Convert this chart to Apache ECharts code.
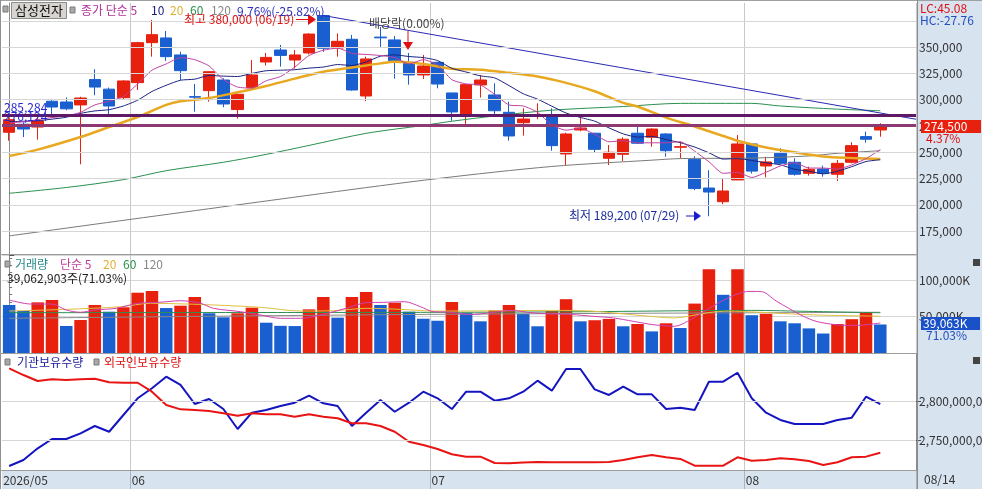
<!DOCTYPE html>
<html>
<head>
<meta charset="utf-8">
<title>삼성전자</title>
<script src="https://cdn.jsdelivr.net/npm/echarts@6.0.0/dist/echarts.min.js"></script>
<style>
  html, body { margin: 0; padding: 0; background: #fff; }
  #chart-container { width: 982px; height: 489px; }
</style>
</head>
<body>
<div id="chart-container"></div>
<script>
const FONT = "'Noto Sans CJK KR', 'Noto Sans', sans-serif";
const RED = '#e8200e';
const BLUE = '#1a5fd0';

// trading days 2026/05/18 ~ 2026/08/14
const dates = [
  '2026/05/18', '2026/05/19', '2026/05/20', '2026/05/21', '2026/05/22', '2026/05/26', '2026/05/27', '2026/05/28', '2026/05/29',
  '2026/06/01', '2026/06/02', '2026/06/04', '2026/06/05', '2026/06/08', '2026/06/09', '2026/06/10', '2026/06/11', '2026/06/12',
  '2026/06/15', '2026/06/16', '2026/06/17', '2026/06/18', '2026/06/19', '2026/06/22', '2026/06/23', '2026/06/24', '2026/06/25',
  '2026/06/26', '2026/06/29', '2026/06/30',
  '2026/07/01', '2026/07/02', '2026/07/03', '2026/07/06', '2026/07/07', '2026/07/08', '2026/07/09', '2026/07/10', '2026/07/13',
  '2026/07/14', '2026/07/15', '2026/07/16', '2026/07/20', '2026/07/21', '2026/07/22', '2026/07/23', '2026/07/24', '2026/07/27',
  '2026/07/28', '2026/07/29', '2026/07/30', '2026/07/31',
  '2026/08/03', '2026/08/04', '2026/08/05', '2026/08/06', '2026/08/07', '2026/08/10', '2026/08/11', '2026/08/12', '2026/08/13',
  '2026/08/14'
];
const monthStarts = [0, 9, 30, 52];
const monthLabels = ['2026/05', '06', '07', '08'];

const openPx = [269000, 276600, 274000, 298500, 297800, 295000, 319100, 310000, 301900, 316200,
  354200, 358700, 342500, 302900, 308600, 318700, 290600, 311400, 335800, 347200,
  337700, 344400, 380000, 349100, 357400, 303500, 359500, 356800, 335500, 323500,
  335500, 306400, 285500, 314000, 304500, 288000, 278100, 285000, 284800, 248400,
  271200, 268100, 244300, 248100, 268100, 264300, 267400, 254800, 243300, 216000,
  203000, 223700, 257900, 237000, 249000, 240500, 230000, 234100, 229100, 240500,
  264900, 271200];
const closePx = [281000, 272100, 279700, 293000, 291300, 301600, 312000, 294000, 317800, 354200,
  361800, 340900, 327600, 302400, 326600, 295900, 305100, 323500, 340200, 342100,
  342500, 362400, 348900, 355500, 309200, 338700, 358800, 337000, 323500, 332000,
  314900, 288300, 314300, 318700, 289500, 265500, 281600, 285600, 256300, 267400,
  273100, 252800, 250000, 262400, 258600, 272100, 251500, 255300, 215500, 212200,
  213200, 257900, 232100, 240800, 239500, 229100, 233800, 230000, 239500, 256300,
  262400, 274500];
const lowPx = [261000, 264500, 262000, 285200, 290000, 238600, 304200, 285500, 300500, 309200,
  340900, 336800, 318700, 288600, 298100, 292800, 281900, 311000, 332400, 331400,
  329500, 343000, 345600, 340900, 308600, 298700, 350100, 320000, 314300, 319700,
  310800, 280000, 276600, 302000, 285500, 261000, 265800, 281400, 251500, 237900,
  270000, 249600, 237900, 241700, 257900, 255300, 245800, 244300, 214000, 189200,
  200600, 223700, 229800, 226200, 238600, 227800, 227800, 226800, 222700, 239500,
  259100, 264800];
const highPx = [284500, 278500, 283500, 299500, 302000, 302800, 329000, 311500, 318500, 355100,
  375800, 365300, 345600, 314900, 327000, 320300, 305800, 337700, 344400, 352000,
  347200, 363100, 380000, 363000, 361500, 340900, 369100, 360500, 344400, 342500,
  336100, 306400, 314900, 323500, 315600, 298100, 291800, 296600, 291800, 268600,
  285500, 268600, 256900, 264300, 275000, 272800, 268100, 260000, 246200, 232900,
  225000, 266400, 258600, 245700, 253800, 244300, 236300, 237300, 242700, 259500,
  269600, 277600];

// moving averages
const ma5 = [278000, 279000, 281000, 283000, 284500, 288000, 295000, 298500, 303000, 315000,
  328000, 334000, 340000, 338000, 332000, 319000, 312000, 311000, 318000, 322000,
  331000, 342000, 347000, 349000, 344000, 343000, 342000, 340000, 334000, 338000,
  333000, 319000, 315000, 314000, 305000, 295000, 294000, 288000, 276000, 271000,
  273000, 267000, 260000, 261000, 259000, 259000, 259000, 260000, 251000, 241000,
  230000, 231000, 226000, 231000, 237000, 240000, 235000, 235000, 234000, 238000,
  244000, 252500];
const ma10 = [279000, 279500, 280000, 281500, 283300, 287000, 289300, 290500, 294000, 299500,
  307800, 313700, 318500, 319500, 323000, 322400, 322000, 325000, 327500, 328000,
  328500, 330000, 331000, 333400, 332500, 335900, 341300, 342600, 341000, 340000,
  337200, 329800, 326300, 322600, 320700, 313400, 305600, 300500, 293800, 287300,
  283100, 279600, 273200, 267500, 264400, 265100, 262100, 259100, 255000, 249500,
  243500, 244000, 242200, 240000, 238100, 233800, 232000, 229500, 231900, 236300,
  241200, 242900];
const ma20Pts = [[0, 246500], [2, 252500], [5, 264500], [7, 274000], [9, 283500], [11, 295000], [12, 298500],
  [14, 301500], [16, 307000], [18, 313000], [20, 320000], [22, 326500], [24, 330500], [26, 334500], [27, 336000],
  [29, 334000], [31, 329500], [33, 328500], [35, 325500], [37, 322000], [39, 316000], [41, 308000], [43, 297000],
  [44, 293500], [46, 283000], [48, 274500], [50, 265500], [51, 261000], [53, 254500], [55, 250000], [57, 246000],
  [59, 244500], [61, 243500]];
const ma60Pts = [[0, 211000], [4, 216500], [8, 224000], [11, 232500], [15, 240500], [18, 248000], [21, 256500],
  [25, 268000], [29, 275500], [31, 279500], [34, 284500], [38, 290000], [43, 293500], [47, 296500], [52, 296500],
  [54, 294000], [58, 291000], [61, 289500]];
const ma120Pts = [[0, 170500], [22, 211000], [30, 225000], [38, 236500], [45, 242500], [47, 244000], [52, 244500],
  [56, 246500], [58, 249000], [61, 251500]];
const trendPts = [[22, 380000], [63.5, 281400]];
const levelValues = [285284, 276124];

// volume, thousand shares
const volumes = [65800, 57500, 69400, 72600, 37000, 45200, 65800, 56600, 62600, 82600,
  84900, 61600, 64800, 76700, 54400, 48900, 54400, 62100, 41500, 37200,
  36900, 59800, 76700, 48400, 76700, 83600, 65800, 68900, 56600, 47000,
  44200, 69900, 55100, 43400, 58400, 65800, 53700, 36600, 57400, 73700,
  43400, 44900, 46700, 36600, 39700, 29600, 40700, 34200, 67700, 114700,
  79700, 114800, 51800, 53700, 43400, 40700, 33700, 26700, 39700, 46300,
  55100, 39063];
const volMa5Pts = [[0, 72600], [1.5, 67100], [3, 67100], [4, 58900], [5, 55800], [6, 58900], [7.5, 61200],
  [9, 68100], [10.5, 69400], [12, 71600], [13.4, 68100], [14.3, 61200], [16.2, 56600], [17.6, 52100], [19, 47500],
  [20.4, 47500], [21.8, 52100], [23.6, 61200], [25, 68900], [26.2, 69400], [27.7, 70300], [28.8, 63400],
  [29.7, 56600], [30.8, 56000], [32.3, 52700], [33.7, 55100], [35.1, 58400], [36.6, 55100], [38, 53700],
  [39.4, 52700], [40.8, 50400], [42.3, 48100], [43.7, 43400], [45.1, 38800], [46.6, 36600], [47.5, 43400],
  [48.9, 59700], [50.4, 76000], [51.8, 84400], [52.7, 84000], [53.7, 71400], [54.6, 61100], [55.6, 50400],
  [56.5, 43400], [57.5, 39700], [58.4, 37900], [59.4, 37900], [61, 41100]];
const volMa20Pts = [[0, 57500], [4, 59800], [7.8, 63400], [9.9, 68100], [12.4, 67100], [14.3, 65800], [17.6, 62600],
  [20.4, 57500], [22.7, 57900], [25, 61200], [27.4, 59800], [29.7, 57500], [31.6, 57500], [38, 58400], [40.8, 57400],
  [44.2, 51400], [46.6, 48100], [48.9, 55100], [50.4, 57400], [52.3, 56000], [54.6, 53700], [57, 51800], [61, 50400]];
const volMa60Pts = [[0, 55200], [20, 55500], [31.6, 55800], [40, 56500], [48, 58000], [52, 58400], [56, 57000], [61, 55100]];
const volMa120Pts = [[0, 47500], [15, 50500], [30, 53000], [45, 54500], [61, 55800]];

// holdings, million shares
const instHold = [2718.1, 2725.7, 2740.4, 2752.1, 2752.1, 2759.3, 2768.5, 2761.3, 2782.4, 2803.4,
  2816.0, 2830.6, 2820.2, 2796.2, 2802.5, 2789.9, 2764.7, 2785.3, 2788.7, 2793.7,
  2797.9, 2806.7, 2797.1, 2793.7, 2768.5, 2785.3, 2801.3, 2786.5, 2797.9, 2811.7,
  2803.4, 2789.9, 2811.7, 2811.7, 2800.4, 2803.4, 2811.7, 2825.6, 2813.0, 2840.3,
  2840.3, 2814.7, 2807.6, 2818.0, 2808.4, 2808.4, 2789.9, 2791.6, 2788.7, 2824.3,
  2824.3, 2835.6, 2803.4, 2785.3, 2776.1, 2771.0, 2771.0, 2771.0, 2776.1, 2779.0,
  2805.4, 2796.2];
const foreignHold = [2841.2, 2832.7, 2825.2, 2827.3, 2826.4, 2827.3, 2828.1, 2823.6, 2823.0, 2823.0,
  2811.7, 2795.0, 2789.5, 2788.7, 2787.4, 2784.5, 2781.5, 2784.5, 2783.3, 2783.3,
  2780.2, 2783.3, 2780.2, 2778.2, 2771.9, 2771.9, 2768.5, 2761.3, 2748.7, 2744.6,
  2739.5, 2732.9, 2729.9, 2729.9, 2721.9, 2721.5, 2722.5, 2723.2, 2722.8, 2722.8,
  2722.8, 2722.8, 2723.2, 2725.7, 2729.1, 2732.0, 2729.1, 2727.0, 2718.5, 2718.5,
  2718.5, 2729.1, 2724.8, 2725.7, 2727.8, 2726.6, 2724.4, 2719.4, 2722.8, 2729.1,
  2729.9, 2734.9];

const priceGrid = [175000, 200000, 225000, 250000, 275000, 300000, 325000, 350000, 375000];
const priceTicks = [175000, 200000, 225000, 250000, 275000, 300000, 325000, 350000];
const holdTicks = [2750, 2800];

const cats = dates.concat(['p1', 'p2']);
const fmt = v => v.toLocaleString('en-US');

function monthLine(i) {
  return i > 0 && monthStarts.indexOf(i) >= 0;
}

function panel(top, height, extra) {
  return Object.assign({ left: 2, right: 66, top: top, height: height, outerBoundsMode: 'none', containLabel: false }, extra);
}

function catAxis(gridIndex) {
  return {
    type: 'category', gridIndex: gridIndex, data: cats, boundaryGap: true,
    axisLine: { show: false }, axisTick: { show: false }, axisLabel: { show: false },
    splitLine: { show: true, interval: monthLine, lineStyle: { color: '#c8c8c8', width: 1 } }
  };
}

function overlayAxis(gridIndex) {
  return { type: 'value', gridIndex: gridIndex, min: -0.5, max: 63.5, show: false };
}

function line(data, color, width, xIdx, yIdx, smooth, z) {
  return {
    type: 'line', xAxisIndex: xIdx, yAxisIndex: yIdx, data: data, symbol: 'none', showSymbol: false,
    smooth: smooth || false, silent: true, z: z || 3, lineStyle: { color: color, width: width }
  };
}

function gridLines(xIdx, yIdx, values) {
  return {
    type: 'line', xAxisIndex: xIdx, yAxisIndex: yIdx, data: [], z: 1, silent: true,
    markLine: {
      symbol: 'none', silent: true, label: { show: false }, animation: false,
      lineStyle: { color: '#d6d6d6', width: 1, type: 'solid' },
      data: values.map(v => ({ yAxis: v }))
    }
  };
}

// decorations: frame, legends, notes
function text(x, y, s, color, size, z) {
  return {
    type: 'text', x: x, y: y, z: z || 100, silent: true,
    style: { text: s, fill: color, fontSize: size || 12, fontFamily: FONT, verticalAlign: 'middle' }
  };
}
function rect(x, y, w, h, fill, stroke, z) {
  return { type: 'rect', z: z || 90, silent: true, shape: { x: x, y: y, width: w, height: h },
    style: { fill: fill, stroke: stroke || null, lineWidth: 1 } };
}
function seg(x1, y1, x2, y2, color, w, z) {
  return { type: 'line', z: z || 95, silent: true, shape: { x1: x1, y1: y1, x2: x2, y2: y2 },
    style: { stroke: color, lineWidth: w || 1 } };
}
function tri(points, color) {
  return { type: 'polygon', z: 96, silent: true, shape: { points: points }, style: { fill: color } };
}
function icon(x, y) {
  return rect(x, y, 5, 6, '#a8a8a8', '#7a7a7a', 100);
}

const graphics = [
  rect(918, 0, 64, 489, '#d8e3f0', null, -1),
  seg(0, 0.5, 982, 0.5, '#a0a0a0'),
  seg(0.5, 0, 0.5, 489, '#909090'),
  seg(917.5, 0, 917.5, 489, '#8c8c8c'),
  seg(0, 254.5, 917, 254.5, '#9c9c9c'),
  seg(0, 353.5, 917, 353.5, '#9c9c9c'),
  seg(0, 470.5, 917, 470.5, '#9c9c9c'),

  icon(3, 6),
  rect(11.5, 2.5, 55, 16, '#d8d5d0', '#8c8c8c', 99),
  text(15, 10.5, '삼성전자', '#111', 13),
  icon(70, 7),
  text(81, 10, '종가 단순 5', '#b0309a'),
  text(151, 10, '10', '#1a1a7a'),
  text(170, 10, '20', '#e0b030'),
  text(190, 10, '60', '#2a9050'),
  text(211, 10, '120', '#888888'),

  text(184, 19.5, '최고 380,000 (06/19)', '#e01010'),
  seg(296, 19.5, 309, 19.5, '#e01010'),
  tri([[308, 14], [316, 19.5], [308, 25]], '#e01010'),
  text(237, 11, '9.76%(-25.82%)', '#2a30b8', 12, 101),
  text(369, 23, '배당락(0.00%)', '#444444'),
  seg(408, 31, 408, 44, '#e01010'),
  tri([[403, 42], [413, 42], [408, 50]], '#e01010'),
  text(569, 215.5, '최저 189,200 (07/29)', '#1a2a9a'),
  seg(686, 216, 697, 216, '#1a1ad0'),
  tri([[694, 211], [701, 216], [694, 221]], '#1a1ad0'),

  text(920, 8, 'LC:45.08', '#e01010'),
  text(920, 20, 'HC:-27.76', '#2050c0'),
  rect(921, 120, 60, 13, RED, null, 99),
  text(924, 126.5, '274,500', '#ffffff'),
  text(926, 138.5, '4.37%', '#e01010'),

  icon(5, 261),
  text(15, 264, '거래량', '#2a8a8a'),
  text(60, 264, '단순 5', '#c040a0'),
  text(103, 264, '20', '#e0b030'),
  text(123, 264, '60', '#2a9050'),
  text(143, 264, '120', '#888888'),
  text(7, 278, '39,062,903주(71.03%)', '#222222'),
  rect(921, 317, 59, 13, '#1a50c8', null, 99),
  text(923, 323.5, '39,063K', '#ffffff'),
  text(926, 335.5, '71.03%', '#2050c0'),
  rect(973, 259, 7, 7, '#444444', null, 99),
  rect(973, 357, 7, 7, '#444444', null, 99),

  icon(5, 359),
  text(17, 362.5, '기관보유수량', '#1a1a9a'),
  icon(94, 359),
  text(104, 362.5, '외국인보유수량', '#e01010'),

  text(924, 479.5, '08/14', '#333333')
];

const candleData = dates.map((d, i) => [openPx[i], closePx[i], lowPx[i], highPx[i]]);
const volumeData = volumes.map((v, i) => ({
  value: v,
  itemStyle: { color: i > 0 && v >= volumes[i - 1] ? RED : BLUE }
}));

const option = {
  animation: false,
  backgroundColor: '#ffffff',
  textStyle: { fontFamily: FONT },
  grid: [
    panel(3, 251),
    panel(255, 98),
    panel(354, 116),
    panel(470, 19, { show: true, backgroundColor: '#d8e3f0', borderWidth: 0 })
  ],
  xAxis: [
    catAxis(0),
    catAxis(1),
    catAxis(2),
    overlayAxis(0),
    overlayAxis(1),
    Object.assign(catAxis(3), {
      splitLine: { show: true, interval: monthLine, lineStyle: { color: '#a8b4c0', width: 1 } },
      axisLabel: {
        show: true, inside: true, margin: 3, align: 'left', padding: [0, 0, 0, -6],
        color: '#333333', fontSize: 12,
        interval: i => monthStarts.indexOf(i) >= 0,
        formatter: (v, i) => monthLabels[monthStarts.indexOf(i)] || ''
      }
    })
  ],
  yAxis: [
    {
      type: 'value', gridIndex: 0, position: 'right', min: 153300, max: 391900,
      splitLine: { show: false },
      axisLine: { show: true, lineStyle: { color: '#8c8c8c' } },
      axisTick: { show: true, length: 5, customValues: priceTicks, lineStyle: { color: '#555' } },
      axisLabel: { customValues: priceTicks, margin: 3, color: '#333', fontSize: 12, formatter: fmt }
    },
    {
      type: 'value', gridIndex: 1, position: 'right', min: 0, max: 134250, interval: 50000,
      splitLine: { show: true, lineStyle: { color: '#d6d6d6' } },
      axisLine: { show: true, lineStyle: { color: '#8c8c8c' } },
      axisTick: { show: true, length: 5, lineStyle: { color: '#555' } },
      minorTick: { show: true, splitNumber: 5, length: 3, lineStyle: { color: '#777' } },
      axisLabel: {
        margin: 3, color: '#333', fontSize: 12,
        formatter: v => (v > 0 && v % 50000 === 0) ? fmt(v) + 'K' : ''
      }
    },
    {
      type: 'value', gridIndex: 2, position: 'right', min: 2713.1, max: 2859.2,
      splitLine: { show: false },
      axisLine: { show: true, lineStyle: { color: '#8c8c8c' } },
      axisTick: { show: true, length: 5, customValues: holdTicks, lineStyle: { color: '#555' } },
      axisLabel: { customValues: holdTicks, margin: 3, color: '#333', fontSize: 12, formatter: v => fmt(v * 1000000) }
    },
    { type: 'value', gridIndex: 3, show: false }
  ],
  graphic: { elements: graphics },
  series: [
    gridLines(0, 0, priceGrid),
    {
      type: 'candlestick', xAxisIndex: 0, yAxisIndex: 0, data: candleData, barWidth: 12, z: 2, silent: true,
      itemStyle: { color: RED, color0: BLUE, borderColor: RED, borderColor0: BLUE, borderWidth: 1 }
    },
    line(ma120Pts, '#7a7a7a', 1, 3, 0, 0.3),
    line(ma60Pts, '#2a9050', 1, 3, 0, 0.3),
    line(ma20Pts, '#e8a820', 2.5, 3, 0, 0.3),
    line(ma10, '#1a2280', 1, 0, 0, 0.2),
    line(ma5, '#c040a0', 1, 0, 0, 0.2),
    line(trendPts, '#2a2ab4', 1, 3, 0),
    {
      type: 'line', xAxisIndex: 0, yAxisIndex: 0, data: [], z: 4, silent: true,
      markLine: {
        symbol: 'none', silent: true, animation: false,
        label: {
          show: true, position: 'insideStartTop', distance: 2, color: '#2828d0', fontSize: 12, fontFamily: FONT,
          formatter: p => fmt(p.value)
        },
        data: [
          { yAxis: levelValues[0], lineStyle: { color: '#5e1a66', width: 3, type: 'solid' } },
          { yAxis: levelValues[1], lineStyle: { color: '#8e3a72', width: 3, type: 'solid' } }
        ]
      }
    },

    { type: 'bar', xAxisIndex: 1, yAxisIndex: 1, data: volumeData, barWidth: 12.5, silent: true, z: 2 },
    line(volMa120Pts, '#8a8a8a', 1, 4, 1, 0.3),
    line(volMa60Pts, '#2a9050', 1, 4, 1, 0.3),
    line(volMa20Pts, '#e0c040', 1, 4, 1, 0.3),
    line(volMa5Pts, '#d040b0', 1, 4, 1, 0.3),

    gridLines(2, 2, holdTicks),
    line(instHold, '#1414c0', 2, 2, 2),
    line(foreignHold, '#e81414', 2, 2, 2)
  ]
};

const chart = echarts.init(document.getElementById('chart-container'), null, { renderer: 'canvas' });
chart.setOption(option);
</script>
</body>
</html>
